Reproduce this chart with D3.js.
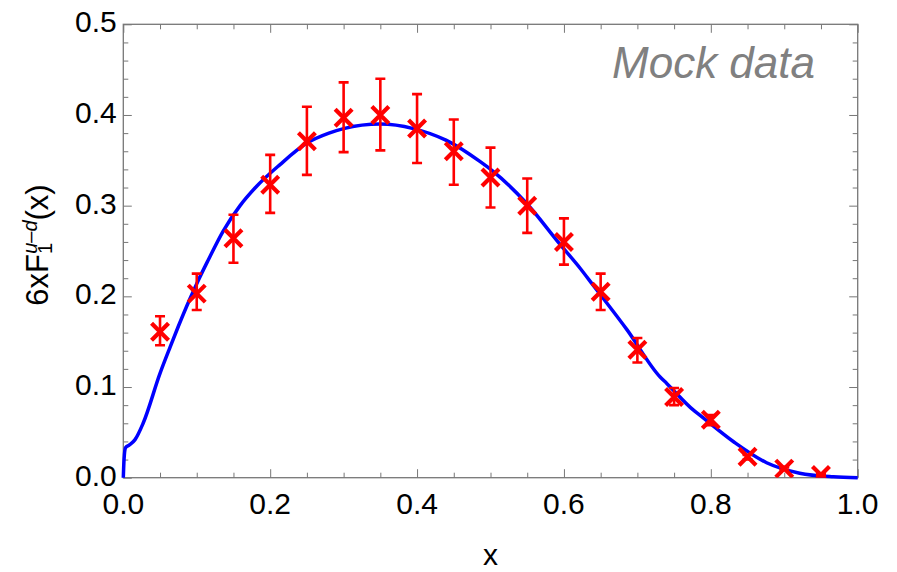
<!DOCTYPE html>
<html>
<head>
<meta charset="utf-8">
<script src="https://cdn.jsdelivr.net/npm/d3@7"></script>
<style>
  body { margin: 0; background: #fff; }
  text { font-family: "Liberation Sans", Arial, Helvetica, sans-serif; }
</style>
</head>
<body>
<div id="chart"></div>
<script>
// Mock data points (x, value, error bar low/high)
const pointX  = [0.05, 0.10, 0.15, 0.20, 0.25, 0.30, 0.35, 0.40, 0.45, 0.50,
                 0.55, 0.60, 0.65, 0.70, 0.75, 0.80, 0.85, 0.90, 0.95];
const pointY  = [0.161, 0.203, 0.264, 0.323, 0.371, 0.397, 0.400, 0.385, 0.360, 0.331,
                 0.300, 0.260, 0.205, 0.141, 0.089, 0.064, 0.023, 0.010, 0.003];
const errLow  = [0.146, 0.185, 0.237, 0.292, 0.334, 0.359, 0.361, 0.347, 0.323, 0.298,
                 0.270, 0.235, 0.185, 0.127, 0.080, 0.058, 0.020, 0.009, 0.002];
const errHigh = [0.178, 0.225, 0.290, 0.356, 0.409, 0.436, 0.440, 0.423, 0.395, 0.364,
                 0.330, 0.286, 0.225, 0.154, 0.099, 0.069, 0.025, 0.012, 0.004];

// Fitted curve
const curveX = [0, 0.001, 0.003, 0.008, 0.016, 0.027, 0.05, 0.064, 0.075, 0.09, 0.10,
                0.115, 0.136, 0.159, 0.18, 0.213, 0.25, 0.28, 0.30, 0.35, 0.395,
                0.44, 0.486, 0.504, 0.549, 0.595, 0.622, 0.64, 0.686, 0.731, 0.74,
                0.776, 0.785, 0.831, 0.876, 0.921, 0.967, 1.0];
const curveY = [0, 0.02, 0.033, 0.036, 0.042, 0.06, 0.115, 0.1445, 0.167, 0.196, 0.214,
                0.239, 0.272, 0.300, 0.320, 0.345, 0.369, 0.380, 0.385, 0.390, 0.385,
                0.372, 0.3485, 0.3375, 0.3026, 0.257, 0.231, 0.212, 0.163, 0.111, 0.104,
                0.0747, 0.069, 0.0397, 0.0165, 0.005, 0.001, 0];

const xMajor = [0, 0.2, 0.4, 0.6, 0.8, 1.0];
const xMinor = [0.05, 0.1, 0.15, 0.25, 0.3, 0.35, 0.45, 0.5, 0.55, 0.65, 0.7, 0.75, 0.85, 0.9, 0.95];
const yMajor = [0, 0.1, 0.2, 0.3, 0.4, 0.5];
const yMinor = d3.range(0, 26).map(i => +(i * 0.02).toFixed(2)).filter(v => !yMajor.includes(v));

const W = 897, H = 572;
const margin = { top: 24.3, right: 39.3, bottom: 94.3, left: 123.3 },
      width = W - margin.left - margin.right,
      height = H - margin.top - margin.bottom;

const svg = d3.select("#chart").append("svg")
    .attr("width", W)
    .attr("height", H);

const g = svg.append("g")
    .attr("transform", `translate(${margin.left},${margin.top})`);

const x = d3.scaleLinear().domain([0, 1]).range([0, width]);
const y = d3.scaleLinear().domain([0, 0.5]).range([height, 0]);
const fmt = d3.format(".1f");
const tickCol = "#777";

// ticks on all four sides, pointing inwards
function ticks(axisFn, scale, values, size, transform) {
    const a = g.append("g")
        .attr("transform", transform)
        .call(axisFn(scale).tickValues(values).tickSize(-size).tickSizeOuter(0).tickFormat(""));
    a.select(".domain").remove();
    a.selectAll("line").attr("stroke", tickCol).attr("stroke-width", 1);
    return a;
}
ticks(d3.axisBottom, x, xMajor, 8.5, `translate(0,${height})`);
ticks(d3.axisBottom, x, xMinor, 5, `translate(0,${height})`);
ticks(d3.axisTop, x, xMajor, 8.5, "translate(0,0)");
ticks(d3.axisTop, x, xMinor, 5, "translate(0,0)");
ticks(d3.axisLeft, y, yMajor, 8.5, "translate(0,0)");
ticks(d3.axisLeft, y, yMinor, 5, "translate(0,0)");
ticks(d3.axisRight, y, yMajor, 8.5, `translate(${width},0)`);
ticks(d3.axisRight, y, yMinor, 5, `translate(${width},0)`);

// frame
g.append("rect")
    .attr("width", width).attr("height", height)
    .attr("fill", "none").attr("stroke", tickCol).attr("stroke-width", 1.3);

// tick labels
g.selectAll(".xl").data(xMajor).enter().append("text")
    .attr("x", d => x(d)).attr("y", height + 36.5)
    .attr("text-anchor", "middle")
    .attr("font-size", 30)
    .text(d => fmt(d));

g.selectAll(".yl").data(yMajor).enter().append("text")
    .attr("x", -6.5).attr("y", d => y(d) + 8)
    .attr("text-anchor", "end")
    .attr("font-size", 30)
    .text(d => fmt(d));

// axis titles
svg.append("text")
    .attr("x", margin.left + width / 2).attr("y", 565)
    .attr("text-anchor", "middle")
    .attr("font-size", 30)
    .text("x");

const yt = svg.append("text")
    .attr("transform", "translate(48,245) rotate(-90)")
    .attr("text-anchor", "middle")
    .attr("font-size", 31);
yt.append("tspan").text("6xF");
yt.append("tspan").attr("font-size", 20).attr("dy", 4).text("1");
yt.append("tspan").attr("font-size", 20).attr("font-style", "italic")
    .attr("dx", -11).attr("dy", -15).text("u\u2013d");
yt.append("tspan").attr("dy", 11).text("(x)");

// "Mock data" label
svg.append("text")
    .attr("x", 815).attr("y", 78)
    .attr("text-anchor", "end")
    .attr("font-family", "Roboto, 'Liberation Sans', sans-serif")
    .attr("font-weight", 300)
    .attr("font-style", "italic")
    .attr("font-size", 44)
    .attr("fill", "#808080")
    .text("Mock data");

// curve
const curveData = curveX.map((d, i) => [d, curveY[i]]);
g.append("path")
    .datum(curveData)
    .attr("fill", "none")
    .attr("stroke", "#0000ff")
    .attr("stroke-width", 3.5)
    .attr("d", d3.line().x(d => x(d[0])).y(d => y(d[1])).curve(d3.curveMonotoneX));

// points with error bars, clipped to the plot area
svg.append("defs").append("clipPath").attr("id", "plot-clip")
    .append("rect").attr("width", width).attr("height", height);

const pts = g.append("g").attr("clip-path", "url(#plot-clip)")
    .selectAll("g").data(pointX.map((d, i) => i)).enter().append("g")
    .attr("stroke", "#ff0000")
    .attr("fill", "none");

pts.append("line")
    .attr("x1", i => x(pointX[i])).attr("x2", i => x(pointX[i]))
    .attr("y1", i => y(errLow[i])).attr("y2", i => y(errHigh[i]))
    .attr("stroke-width", 2.6);
pts.append("line")
    .attr("x1", i => x(pointX[i]) - 5).attr("x2", i => x(pointX[i]) + 5)
    .attr("y1", i => y(errLow[i])).attr("y2", i => y(errLow[i]))
    .attr("stroke-width", 2.6);
pts.append("line")
    .attr("x1", i => x(pointX[i]) - 5).attr("x2", i => x(pointX[i]) + 5)
    .attr("y1", i => y(errHigh[i])).attr("y2", i => y(errHigh[i]))
    .attr("stroke-width", 2.6);
pts.append("path")
    .attr("transform", i => `translate(${x(pointX[i])},${y(pointY[i])})`)
    .attr("d", "M-8.5,-8.5L8.5,8.5M-8.5,8.5L8.5,-8.5")
    .attr("stroke-width", 4.2);
</script>
</body>
</html>
